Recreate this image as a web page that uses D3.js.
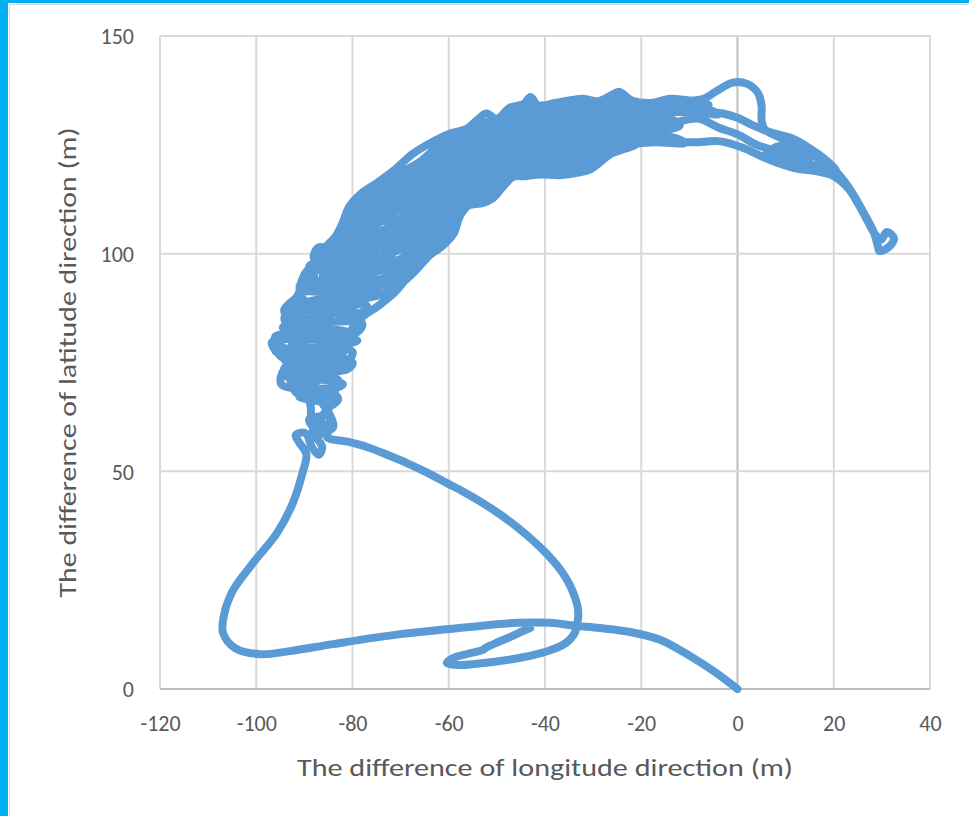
<!DOCTYPE html>
<html>
<head>
<meta charset="utf-8">
<script src="https://cdn.jsdelivr.net/npm/d3@7"></script>
<style>
  body { margin: 0; background: #ffffff; }
  svg { display: block; }
  text { font-family: Carlito, "Liberation Sans Narrow", "Liberation Sans", sans-serif; fill: #595959; }
</style>
</head>
<body>
<div id="chart"></div>
<script>
////////////////////////////////////////////////////////////////////////////////////////
// data
////////////////////////////////////////////////////////////////////////////////////////
var xTicks = [-120, -100, -80, -60, -40, -20, 0, 20, 40];
var yTicks = [0, 50, 100, 150];
var xTitle = "The difference of longitude direction (m)";
var yTitle = "The difference of latitude direction (m)";

// origin -> bottom loop -> up to the cluster
var trackStart = [
	[0, 0], [-4.7, 3.9], [-9.9, 7.6], [-16.1, 11.3], [-22.3, 13.1], [-28.6, 14.0], [-33.4, 14.5],
	[-39, 15.2], [-45.8, 15.2], [-56.2, 14.2], [-70.1, 12.6], [-84.1, 10.3], [-93, 8.7], [-99.2, 8],
	[-104.4, 9.4], [-106.9, 12.9], [-106.7, 17], [-104.8, 22.7], [-100.7, 28.9], [-95.7, 35.8],
	[-92.4, 42.7], [-90.5, 49.2], [-89.6, 54]
];

// first run along the top of the arc, round the loop, out to the tip and back along the bottom
var trackArc = [
	[-91, 56.5], [-91.8, 58.3], [-89.8, 58.8], [-88.4, 55.5], [-87, 53.8], [-86.3, 55.6], [-87.6, 58],
	[-88.6, 61.5], [-88.8, 65.5], [-90.8, 68.5], [-94.8, 70], [-94.4, 73], [-92, 74.2], [-95, 76.5],
	[-96.8, 79.5], [-94, 80.6], [-91, 79.2], [-88, 78.2], [-86, 80.2], [-88.3, 82.6], [-92.2, 84],
	[-94.2, 87], [-92, 89.6], [-89.8, 92], [-88.2, 94.8], [-87.5, 98.2], [-86, 101], [-83.5, 104],
	[-82, 107.2], [-80.8, 110.6], [-78.4, 113.6], [-75, 116.2], [-71, 119.5], [-67.4, 123], [-63.5, 125.6],
	[-59.7, 127.6], [-56.4, 128.6], [-54.2, 130.6], [-52.2, 132.2], [-50, 131], [-47.2, 133.6], [-44.4, 134.4],
	[-43, 136], [-41.4, 134], [-38, 134.6], [-35, 135.2], [-32, 135.6], [-29, 135], [-26.2, 136.4],
	[-24.6, 137.2], [-22, 135.2], [-18, 134.6], [-14, 135.6], [-10, 135.2], [-7, 135.6], [-4, 137.6],
	[-1, 139.3], [2, 139], [4.2, 137], [5, 134], [5, 130.6], [5.6, 128.6], [9, 126.6], [13, 124.4],
	[16.6, 122], [19.8, 119.6], [22.6, 116], [24.6, 112.6], [26.6, 108.6], [28.3, 105], [29.2, 101.6],
	[29.5, 100.6], [31.5, 101.6], [32.5, 103.6], [31, 105], [29.8, 103.2], [28.5, 104.6], [27, 107.6],
	[25, 111.6], [23, 115], [20, 117.8], [16, 119], [12, 119.6], [8.5, 120.8], [5.3, 122.2], [1, 124.4],
	[-3.6, 125.8], [-9, 125.6], [-14, 125.8], [-19, 126], [-22, 124.6], [-26.5, 122.8], [-29, 120.6],
	[-30.5, 119.4], [-33, 118.6], [-37, 118], [-41, 118.2], [-44, 117.8], [-46.7, 117.6], [-49, 115],
	[-51, 112.6], [-53, 111.6], [-56, 111], [-57.7, 108.6], [-59, 104.6], [-61.5, 101.6], [-64, 99.6],
	[-67, 96], [-70, 93], [-74, 90.6], [-77.6, 89.6], [-79.6, 88]
];

// back and forth in the upright lower part of the arc
var trackLeft = [
	[-82, 86], [-83, 84.5], [-93, 85], [-94, 83.5], [-81, 82], [-80, 80.5], [-95, 80], [-95.5, 78.5],
	[-80, 77.5], [-81, 75.5], [-94, 74], [-94, 72], [-83, 71], [-83.5, 69.5], [-92, 68.5], [-89, 66.5],
	[-85, 65.5], [-86, 63], [-89, 62], [-88, 60], [-85.5, 59.5], [-86.5, 62], [-85, 64.5], [-83, 66.5],
	[-84, 68], [-92, 70], [-93, 71.5], [-81, 73.5], [-80, 75], [-95.5, 79], [-96, 81], [-79, 82],
	[-78, 84], [-94, 84.5], [-93.5, 86.5], [-78, 86.5], [-77, 88], [-91.5, 89], [-91, 91], [-77, 90.5],
	[-79, 92.5], [-89.5, 94], [-89, 96], [-81, 96.5], [-81, 98.5], [-88, 99], [-87, 101.5],
	[-84, 100], [-89, 97], [-82, 95], [-91, 92.5], [-79, 91.5], [-92.5, 88], [-80, 87.5], [-94.5, 83],
	[-79, 80], [-96, 77.5], [-82, 77], [-94, 75.5], [-81, 74.5], [-94.5, 72.5], [-82, 70], [-91, 67],
	[-84, 67.5]
];

// runs along the slanted part of the arc, bottom lane first
var trackLanes = [
	// lane 1 ->
	[-86, 86.8], [-82, 89.1], [-78, 89.8], [-74, 92.7], [-70, 93.0], [-66, 98.8], [-62, 101.8], [-58, 110.6],
	[-54, 112.2], [-50, 115.2], [-46, 118.3], [-42, 119.6], [-38, 118.9], [-34, 120.2], [-30, 120.3],
	[-26, 123.8], [-22, 125.1], [-17, 125.6], [-11, 125.4], [-13, 126.6],
	// lane 2 <-
	[-22, 126.3], [-26, 124.0], [-30, 122.6], [-34, 120.6], [-38, 121.6], [-42, 120.3], [-46, 120.7],
	[-50, 115.9], [-54, 115.3], [-58, 111.6], [-62, 105.7], [-66, 100.2], [-70, 97.3], [-74, 94.2],
	[-78, 93.6], [-82, 90.3], [-86, 88.4],
	// lane 3 ->
	[-86, 90.1], [-82, 93.8], [-78, 95.2], [-74, 98.3], [-70, 98.8], [-66, 104.4], [-62, 107.4], [-58, 115.0],
	[-54, 116.0], [-50, 119.3], [-46, 121.4], [-42, 123.3], [-38, 121.8], [-34, 123.6], [-30, 123.2],
	[-26, 126.8], [-22, 127.5], [-18, 128.2], [-15, 128.6], [-17, 129.3],
	// lane 4 <-
	[-22, 128.7], [-26, 128.4], [-30, 124.9], [-34, 125.6], [-38, 123.9], [-42, 125.5], [-46, 123.3],
	[-50, 121.2], [-54, 118.1], [-58, 117.2], [-62, 110.0], [-66, 107.5], [-70, 102.0], [-74, 101.6],
	[-78, 98.0], [-82, 95.9], [-86, 91.7],
	// lane 5 ->
	[-86, 93.4], [-82, 96.9], [-78, 102.0], [-74, 103.2], [-70, 106.5], [-66, 109.1], [-62, 113.8],
	[-58, 117.9], [-54, 121.4], [-50, 122.1], [-46, 126.3], [-42, 126.0], [-38, 126.9], [-34, 126.2],
	[-30, 127.8], [-26, 128.8], [-22, 129.9], [-18, 130.3], [-15, 130.8], [-18, 131.4],
	// lane 6 <-
	[-22, 131.1], [-26, 131.4], [-30, 128.5], [-34, 129.4], [-38, 127.7], [-42, 129.1], [-46, 126.8],
	[-50, 125.4], [-54, 122.4], [-58, 121.3], [-62, 115.3], [-66, 113.3], [-70, 108.2], [-74, 107.4],
	[-78, 103.5], [-82, 100.4], [-86, 95.0],
	// lane 7 ->
	[-86, 96.7], [-82, 101.5], [-78, 107.4], [-74, 109.1], [-70, 112.6], [-66, 115.2], [-62, 119.4],
	[-58, 122.2], [-54, 125.7], [-50, 126.1], [-46, 129.8], [-42, 129.8], [-38, 130.7], [-34, 130.1],
	[-30, 131.5], [-26, 131.9], [-22, 132.3], [-16, 132.6], [-9, 132.5], [-4, 132], [-7, 133.5], [-14, 133.8],
	// lane 8 <-
	[-22, 133.5], [-26, 134.4], [-30, 132.0], [-34, 133.0], [-38, 131.4], [-42, 133.0], [-46, 130.5],
	[-50, 129.3], [-54, 126.6], [-58, 125.6], [-62, 120.9], [-66, 119.2], [-70, 114.5], [-74, 113.2],
	[-78, 109.0], [-82, 104.9], [-86, 98.3],
	// lane 9 ->
	[-86, 100.0], [-82, 106.1], [-78, 112.7], [-74, 115.1], [-70, 118.5], [-66, 121.1], [-62, 124.8],
	[-58, 126.7], [-54, 129.6], [-50, 130.7], [-46, 133.3], [-42, 133.9], [-38, 134.2], [-34, 134.3],
	[-30, 134.0], [-26, 135.5], [-22, 134.7], [-17, 134.3], [-12, 134.6], [-6, 134.2], [-10, 133.2], [-16, 133.6]
];

// more runs lying between the ones above, top lane first
var trackLanesMid = [
	// <-
	[-22, 134.1], [-26, 134.8], [-30, 133.5], [-34, 133.4], [-38, 132.9], [-42, 133.4], [-46, 131.9],
	[-50, 129.7], [-54, 128.2], [-58, 126.1], [-62, 122.9], [-66, 120.1], [-70, 116.5], [-74, 114.1],
	[-78, 110.9], [-82, 105.5], [-86, 99.2],
	// ->
	[-86, 97.5], [-82, 103.2], [-78, 108.2], [-74, 111.2], [-70, 113.5], [-66, 117.2], [-62, 120.2],
	[-58, 123.9], [-54, 126.1], [-50, 127.7], [-46, 130.1], [-42, 131.4], [-38, 131.0], [-34, 131.5],
	[-30, 131.8], [-26, 133.2], [-22, 132.9], [-17, 132.2], [-19, 131.3],
	// <-
	[-22, 131.7], [-26, 131.7], [-30, 130.0], [-34, 129.7], [-38, 129.2], [-42, 129.5], [-46, 128.3],
	[-50, 125.6], [-54, 124.0], [-58, 121.8], [-62, 117.4], [-66, 114.2], [-70, 110.4], [-74, 108.2],
	[-78, 105.4], [-82, 101.0], [-86, 95.9],
	// ->
	[-86, 94.2], [-82, 98.7], [-78, 102.7], [-74, 105.2], [-70, 107.3], [-66, 111.2], [-62, 114.7],
	[-58, 119.7], [-54, 121.9], [-50, 123.6], [-46, 126.5], [-42, 127.6], [-38, 127.3], [-34, 127.8],
	[-30, 128.2], [-26, 130.2], [-22, 130.5], [-19, 130], [-16, 129.6], [-19, 129],
	// <-
	[-22, 129.3], [-26, 128.6], [-30, 126.5], [-34, 125.9], [-38, 125.4], [-42, 125.7], [-46, 124.7],
	[-50, 121.6], [-54, 119.8], [-58, 117.5], [-62, 111.9], [-66, 108.3], [-70, 104.2], [-74, 102.3],
	[-78, 99.9], [-82, 96.4], [-86, 92.6],
	// ->
	[-86, 90.9], [-82, 94.2], [-78, 97.2], [-74, 99.3], [-70, 101.1], [-66, 105.3], [-62, 109.2],
	[-58, 115.4], [-54, 117.7], [-50, 119.5], [-46, 122.9], [-42, 123.7], [-38, 123.6], [-34, 124.1],
	[-30, 124.7], [-26, 127.1], [-22, 128.1], [-18, 127.8], [-20, 127.2],
	// <-
	[-22, 126.9], [-26, 125.5], [-30, 123.0], [-34, 122.2], [-38, 121.7], [-42, 121.8], [-46, 121.1],
	[-50, 117.5], [-54, 115.6], [-58, 113.2], [-62, 106.4], [-66, 102.3], [-70, 98.1], [-74, 96.3],
	[-78, 94.4], [-82, 91.9], [-86, 89.3],
	// ->
	[-86, 87.6], [-82, 89.7], [-78, 91.7], [-74, 93.4], [-70, 95.0], [-66, 99.4], [-62, 103.7],
	[-58, 111.1], [-54, 113.5], [-50, 115.5], [-46, 119.2], [-42, 119.9], [-38, 119.8], [-34, 120.3],
	[-30, 121.2], [-26, 124.0], [-22, 125.7],
	// small curl before the right part
	[-18, 127.8], [-14, 128.6], [-12, 129.5], [-14, 131], [-18, 131.5], [-20, 133.5], [-17, 134.6]
];

// second run over the right part and back down the middle
var trackRight = [
	[-15, 132.6], [-11, 133], [-7, 132.6], [-3, 132.2], [0, 131.2], [3, 129.6], [7, 127.8], [11.5, 126.4],
	[15, 124.2], [18.5, 121.4], [20.5, 119], [17, 120], [13, 121], [9, 122.3], [6, 123], [9, 124.8],
	[13, 123.6], [16, 122.4], [12, 122.4], [8, 123.6], [4, 125], [0, 127.4], [-4, 129],
	[-8, 131], [-12, 130.4], [-16, 128.8], [-20, 128.2], [-24, 129.4], [-28, 128.8], [-31, 126.6],
	[-34, 125.4], [-38, 125.2], [-42, 124.6], [-46, 124], [-49, 122.2], [-52, 120.4], [-55, 118],
	[-58, 116], [-61, 113.4], [-64, 110.4], [-67, 107], [-70, 104], [-73, 100.4], [-76, 97], [-79, 94],
	[-82, 91], [-85, 88.2], [-88, 86], [-90.2, 83], [-92, 80], [-93.4, 77], [-92, 72.2], [-89.4, 70.2],
	[-86.4, 71.2], [-84, 72.6], [-82.4, 75.4], [-82, 78.4], [-80.6, 82], [-78, 85.4], [-74.4, 88.2],
	[-71, 91.4], [-68.4, 95], [-66.2, 99], [-64, 103], [-62, 106.4], [-60, 109.6], [-58, 113],
	[-55.6, 115.2], [-52.6, 117], [-50, 118.4], [-47, 119.6], [-44, 120.6], [-40, 120.6], [-36, 120.2],
	[-32, 121.2], [-29, 123.6], [-26, 125.2], [-24, 128.8], [-30, 127], [-38, 126], [-46, 125],
	[-52, 122], [-58, 118], [-64, 113], [-70, 107], [-76, 101], [-82, 95], [-86, 91], [-89, 96.4],
	[-91, 91.2], [-89, 88], [-86, 84.4], [-85, 81.2], [-87.4, 76], [-89, 73], [-88, 68], [-86.6, 66],
	[-85, 63.6], [-84, 60.2], [-86.6, 58.6], [-88.6, 57.6], [-87.6, 60.6], [-85.2, 63.4], [-84.6, 60.2]
];

// big curve to the right, then the hook at the bottom
var trackEnd = [
	[-85.3, 57.9], [-81, 56.8], [-77, 55.6], [-72.8, 53.8], [-68.7, 51.9], [-64.5, 49.7], [-60.4, 47.3],
	[-56.6, 45.1], [-52.9, 42.7], [-49.2, 40], [-45.8, 37.2], [-43, 34.6], [-40.4, 31.9], [-38.2, 29.3],
	[-36.3, 26.6], [-34.8, 23.8], [-33.8, 21.1], [-33.2, 18.8], [-33.1, 16.5], [-33.4, 14.6], [-33.8, 12.9],
	[-34.8, 11.4], [-36.3, 10.1], [-39.2, 8.8], [-42.5, 7.8], [-46.6, 6.9], [-50.8, 6.2], [-54.2, 5.8],
	[-57.7, 5.5], [-60.4, 6], [-59.1, 7.1], [-56, 8.1], [-52.9, 9], [-52.1, 9.6], [-49.7, 10.8],
	[-47.3, 11.9], [-45.2, 13], [-43.1, 14]
];

////////////////////////////////////////////////////////////////////////////////////////
// chart
////////////////////////////////////////////////////////////////////////////////////////
var W = 969, H = 816;
var plot = {left: 160, right: 930, top: 36, bottom: 689};

var svg = d3.select("#chart").append("svg")
	.attr("width", W)
	.attr("height", H);

svg.append("rect").attr("width", W).attr("height", H).attr("fill", "#ffffff");

// window frame (blue edge + light border)
svg.append("rect").attr("x", 0).attr("y", 0).attr("width", 8).attr("height", H).attr("fill", "#00b0f0");
svg.append("rect").attr("x", 0).attr("y", 0).attr("width", W).attr("height", 3).attr("fill", "#00b0f0");
svg.append("path")
	.attr("d", "M9.5," + H + "V4.5H" + W)
	.attr("fill", "none")
	.attr("stroke", "#d9d9d9")
	.attr("stroke-width", 1);

var x = d3.scaleLinear().domain([-120, 40]).range([plot.left, plot.right]);
var y = d3.scaleLinear().domain([0, 150]).range([plot.bottom, plot.top]);

// grid
svg.append("g")
	.selectAll("line")
	.data(xTicks)
	.join("line")
	.attr("x1", function (d) { return x(d); })
	.attr("x2", function (d) { return x(d); })
	.attr("y1", y(0))
	.attr("y2", y(150))
	.attr("stroke", function (d) { return d === 0 ? "#bfbfbf" : "#d9d9d9"; })
	.attr("stroke-width", 2);

svg.append("g")
	.selectAll("line")
	.data(yTicks)
	.join("line")
	.attr("x1", x(-120))
	.attr("x2", x(40))
	.attr("y1", function (d) { return y(d); })
	.attr("y2", function (d) { return y(d); })
	.attr("stroke", function (d) { return d === 0 ? "#bfbfbf" : "#d9d9d9"; })
	.attr("stroke-width", 2);

// axes (labels only, the lines are the grid above)
var xAxis = d3.axisBottom(x).tickValues(xTicks).tickSize(0).tickPadding(0)
	.tickFormat(function (d) { return String(d); });
var gx = svg.append("g")
	.attr("transform", "translate(0," + (plot.bottom + 26) + ")")
	.call(xAxis);
gx.select(".domain").remove();
gx.selectAll("text")
	.attr("dy", "0.71em")
	.style("font-size", "22px")
	.style("fill", "#595959");

var yAxis = d3.axisLeft(y).tickValues(yTicks).tickSize(0).tickPadding(0)
	.tickFormat(function (d) { return String(d); });
var gy = svg.append("g")
	.attr("transform", "translate(" + 134 + ",0)")
	.call(yAxis);
gy.select(".domain").remove();
gy.selectAll("text")
	.attr("dy", "0.35em")
	.style("font-size", "22px")
	.style("fill", "#595959");

// titles
svg.append("text")
	.attr("x", (plot.left + plot.right) / 2)
	.attr("y", 776)
	.attr("text-anchor", "middle")
	.style("font-size", "24px")
	.attr("textLength", 496)
	.attr("lengthAdjust", "spacingAndGlyphs")
	.text(xTitle);

svg.append("text")
	.attr("transform", "translate(76," + ((plot.top + plot.bottom) / 2) + ") rotate(-90)")
	.attr("text-anchor", "middle")
	.style("font-size", "24px")
	.attr("textLength", 470)
	.attr("lengthAdjust", "spacingAndGlyphs")
	.text(yTitle);

// trajectory (one series, drawn as one smoothed line)
var track = trackStart.concat(trackArc, trackLeft, trackLanes, trackLanesMid, trackRight, trackEnd);

var line = d3.line()
	.x(function (d) { return x(d[0]); })
	.y(function (d) { return y(d[1]); })
	.curve(d3.curveCatmullRom.alpha(0.5));

svg.append("path")
	.datum(track)
	.attr("d", line)
	.attr("fill", "none")
	.attr("stroke", "#5b9bd5")
	.attr("stroke-width", 8)
	.attr("stroke-linejoin", "round")
	.attr("stroke-linecap", "round");
</script>
</body>
</html>
